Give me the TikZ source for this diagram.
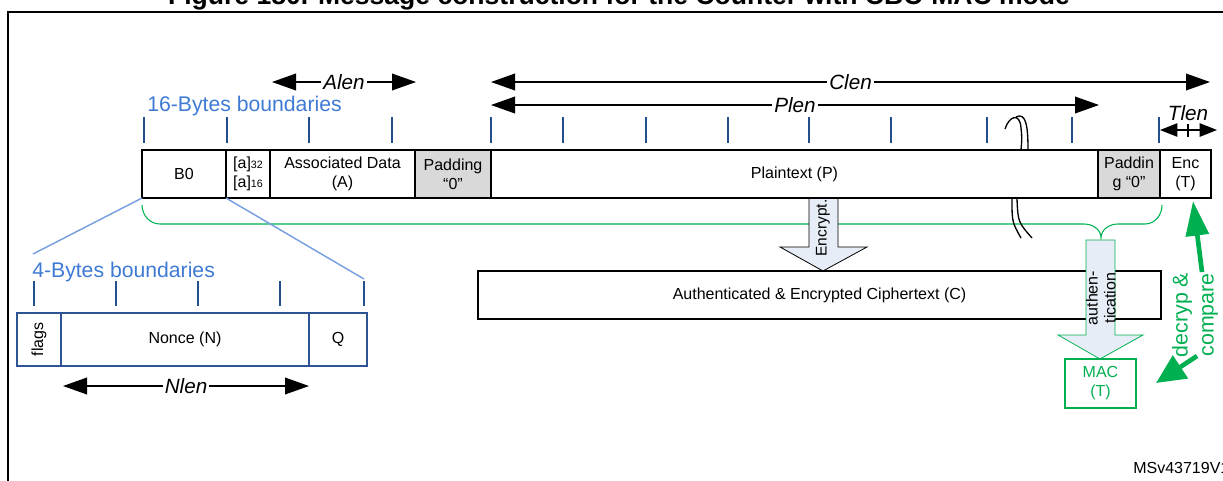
\documentclass[tikz,border=0pt]{standalone}
\usepackage{fontspec}
\setmainfont{Liberation Sans}
\usetikzlibrary{arrows.meta}

\definecolor{bndblue}{RGB}{62,122,212}
\definecolor{tickblue}{RGB}{33,80,140}
\definecolor{zoomblue}{RGB}{120,160,225}
\definecolor{nonceblue}{RGB}{45,85,150}
\definecolor{macgreen}{RGB}{0,176,80}
\definecolor{padgray}{RGB}{217,217,217}
\definecolor{arrowfill}{RGB}{231,237,246}

\newcommand{\cellfont}{\fontsize{12}{14.25}\selectfont}
\newcommand{\lenfont}{\fontsize{15.5}{18}\selectfont\itshape}
\newcommand{\bndfont}{\fontsize{15.9}{18}\selectfont}
\newcommand{\abits}[1]{{\fontsize{8}{8}\selectfont #1}}

\tikzset{
  cell/.style={draw, line width=1.4pt, inner sep=0pt, outer sep=0pt,
    minimum height=36pt, align=center, font=\cellfont},
  padcell/.style={cell, fill=padgray},
  ncell/.style={cell, draw=nonceblue, line width=1.1pt, minimum height=39.75pt},
  lenarrow/.style={line width=1.1pt,
    {Triangle[length=18pt,width=12.5pt]}-{Triangle[length=18pt,width=12.5pt]}},
  tlenarrow/.style={line width=1.1pt, -{Triangle[length=13pt,width=10pt]}},
  lenlabel/.style={fill=white, inner sep=1.5pt, font=\lenfont},
  tick/.style={draw=tickblue, line width=1.1pt},
  bnd/.style={text=bndblue, font=\bndfont, inner sep=0pt},
  zoomline/.style={draw=zoomblue, line width=1.1pt},
  blockarrow/.style={fill=arrowfill, line width=0.6pt},
  greenarrow/.style={draw=macgreen, line width=3.5pt,
    -{Triangle[length=26pt,width=17pt]}},
  breakline/.style={line width=1pt},
}

\begin{document}
\begin{tikzpicture}[x=0.75pt, y=-0.75pt]
  \useasboundingbox (0,0) rectangle (1223,480);

  % --- frame + title ---
  \draw[line width=2pt] (8,12) rectangle (1240,500);
  \node[anchor=base, inner sep=0pt, font=\fontsize{19.9}{22}\selectfont\bfseries]
    (title) at (619,4) {Figure 180. Message construction for the Counter with CBC-MAC mode};

  % --- brace (authentication) ---
  \draw[macgreen, line width=0.8pt] (142,205) to[out=-90,in=180] (160,224) -- (1084,224)
    to[out=0,in=90] (1101,238) to[out=90,in=180] (1118,224) -- (1145,224)
    to[out=0,in=-90] (1162,205);

  % --- encrypt arrow ---
  \filldraw[blockarrow] (809,198) -- (809,247) -- (780,247) -- (823,271)
    -- (867,247) -- (838,247) -- (838,198);
  \node[rotate=90, inner sep=0pt, font=\fontsize{11.6}{13}\selectfont]
    (encrypt) at (823,228) {Encrypt.};

  % --- message blocks ---
  \node[cell, minimum width=63pt, anchor=west] (b0) at (142,174) {B0};
  \node[cell, minimum width=33pt, anchor=west] (alenf) at (b0.east)
    {[a]\abits{32}\\{[a]}\abits{16}};
  \node[cell, minimum width=108.75pt, anchor=west] (adata) at (alenf.east)
    {Associated Data\\(A)};
  \node[padcell, minimum width=57pt, anchor=west] (pad1) at (adata.east) {Padding\\“0”};
  \node[cell, minimum width=455.25pt, anchor=west] (plain) at (pad1.east) {Plaintext (P)};
  \node[padcell, minimum width=46.5pt, anchor=west] (pad2) at (plain.east) {Paddin\\g “0”};
  \node[cell, minimum width=38.25pt, anchor=west] (enc) at (pad2.east) {Enc\\(T)};

  % --- 16 byte boundaries ---
  \foreach \x in {144,227,309,392,491,563,646,728,809,891,987,1072,1159}
    \draw[tick] (\x,117) -- (\x,143);
  \node[bnd, anchor=west] (bnd16) at (147,106) {16-Bytes boundaries};

  % --- lengths ---
  \coordinate (alenL) at (272,82);
  \coordinate (alenR) at (416,82);
  \draw[lenarrow] (alenL) -- (alenR) node[midway, lenlabel] (alenlbl) {Alen};
  \coordinate (clenL) at (491,82);
  \coordinate (clenR) at (1210,82);
  \draw[lenarrow] (clenL) -- (clenR) node[midway, lenlabel] (clenlbl) {Clen};
  \coordinate (plenL) at (491,105);
  \coordinate (plenR) at (1099,105);
  \draw[lenarrow] (plenL) -- (plenR) node[midway, lenlabel] (plenlbl) {Plen};
  \node[font=\lenfont, inner sep=0pt] (tlenlbl) at (1188,113) {Tlen};
  \coordinate (tmid) at (1188,130);
  \coordinate (tlenL) at (1160,130);
  \coordinate (tlenR) at (1217,130);
  \draw[tlenarrow] (tmid) -- (tlenL);
  \draw[tlenarrow] (tmid) -- (tlenR);
  \draw[line width=1.1pt] (1188,124) -- (1188,137);

  % --- break marks ---
  \draw[breakline] (1005,129) .. controls (1009,116) and (1020,112) .. (1021,128)
    .. controls (1022,138) .. (1021,150);
  \draw[breakline] (1016,117) .. controls (1026,112) and (1028,126) .. (1028,150);
  \draw[breakline] (1012,199) .. controls (1012,222) .. (1021,238);
  \draw[breakline] (1017,199) .. controls (1018,222) .. (1032,238);

  % --- ciphertext ---
  \node[cell, minimum width=512.25pt] (cipher) at (819.5,295)
    {Authenticated \& Encrypted Ciphertext (C)};

  % --- authentication arrow + MAC ---
  \filldraw[blockarrow, draw=macgreen] (1086,240) -- (1086,335) -- (1058,335) -- (1100,359)
    -- (1143,335) -- (1115,335) -- (1115,240) -- cycle;
  \node[rotate=90, inner sep=0pt, align=center, font=\fontsize{12}{13.5}\selectfont]
    (auth) at (1101,298) {authen-\\tication};
  \node[cell, draw=macgreen, text=macgreen, minimum width=53.25pt, minimum height=36.75pt]
    (mac) at (1100.5,383.5) {MAC\\(T)};

  % --- decrypt and compare ---
  \node[rotate=90, inner sep=0pt, align=center, text=macgreen,
    font=\fontsize{16}{19.5}\selectfont] (dec) at (1195,315) {decryp \&\\compare};
  \coordinate (upfoot) at (1202,272);
  \coordinate (enctip) at (1193,201);
  \draw[greenarrow] (upfoot) -- (enctip);
  \coordinate (dnfoot) at (1197,356);
  \coordinate (mactip) at (1156,383);
  \draw[draw=macgreen, line width=3.5pt, -{Triangle[length=22pt,width=20pt]}]
    (dnfoot) -- (mactip);

  % --- zoom on B0 ---
  \coordinate (zoomL) at (33,254);
  \coordinate (zoomR) at (364,279);
  \draw[zoomline] (b0.south west) -- (zoomL);
  \draw[zoomline] (b0.south east) -- (zoomR);
  \node[bnd, anchor=west] (bnd4) at (32,272) {4-Bytes boundaries};
  \foreach \x in {34,116,198,280,364}
    \draw[tick] (\x,281) -- (\x,306);

  % --- B0 fields ---
  \node[ncell, minimum width=33pt, anchor=west] (flags) at (17,339.5) {\rotatebox{90}{flags}};
  \node[ncell, minimum width=186pt, anchor=west] (nonce) at (flags.east) {Nonce (N)};
  \node[ncell, minimum width=43.5pt, anchor=west] (qlen) at (nonce.east) {Q};
  \coordinate (nlenL) at (63,386);
  \coordinate (nlenR) at (309,386);
  \draw[lenarrow] (nlenL) -- (nlenR) node[midway, lenlabel] (nlenlbl) {Nlen};

  \node[anchor=west, inner sep=0pt, font=\cellfont] (msv) at (1133,468) {MSv43719V1};

\end{tikzpicture}
\end{document}
